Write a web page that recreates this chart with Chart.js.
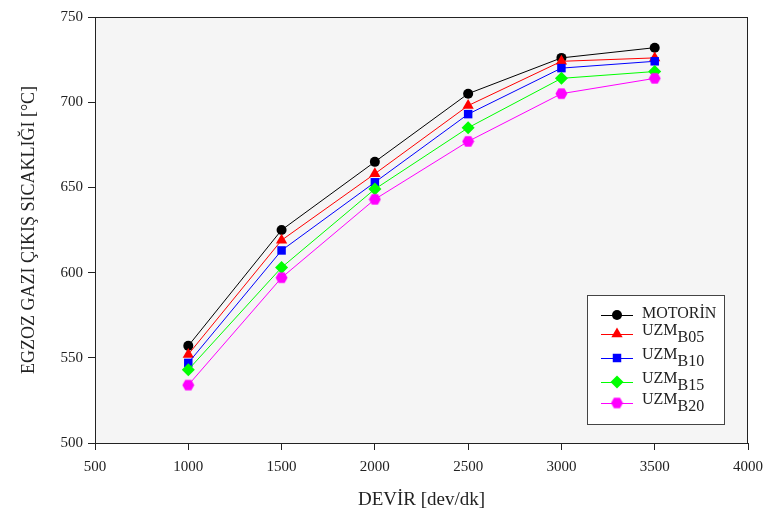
<!DOCTYPE html>
<html>
<head>
<meta charset="utf-8">
<script src="https://cdn.jsdelivr.net/npm/chart.js@4"></script>
<style>
  html, body { margin:0; padding:0; background:#fff; }
  #wrap { width:765px; height:516px; }
</style>
</head>
<body>
<div id="wrap"><canvas id="egzozChart" width="765" height="516"></canvas></div>
<script>
// Devir (dev/dk) ve egzoz gazi cikis sicakligi (°C)
const devir = [1000, 1500, 2000, 2500, 3000, 3500];
const motorin = [557, 625, 665, 705, 726, 732];
const uzmB05 = [552, 619, 658, 698, 724, 726];
const uzmB10 = [547, 613, 653, 693, 720, 724];
const uzmB15 = [543, 603, 649, 685, 714, 718];
const uzmB20 = [534, 597, 643, 677, 705, 714];

const seriesNames = [['MOTORİN', ''], ['UZM', 'B05'], ['UZM', 'B10'], ['UZM', 'B15'], ['UZM', 'B20']];
const seriesColors = ['#000000', '#ff0000', '#0000ff', '#00ff00', '#ff00ff'];

const serif = '"Liberation Serif", "DejaVu Serif", serif';

// altigen isaretci
function hexMarker(color) {
    const c = document.createElement('canvas');
    c.width = 13; c.height = 13;
    const g = c.getContext('2d');
    g.fillStyle = color;
    g.beginPath();
    for (let i = 0; i < 6; i++) {
        const a = Math.PI / 3 * i;
        const px = 6.5 + 6 * Math.cos(a), py = 6.5 + 6 * Math.sin(a);
        if (i === 0) g.moveTo(px, py); else g.lineTo(px, py);
    }
    g.closePath();
    g.fill();
    return c;
}

const markers = [
    {style:'circle', radius:5},
    {style:'triangle', radius:6.5},
    {style:'rect', radius:6},
    {style:'rectRot', radius:6.5},
    {style:hexMarker('#ff00ff'), radius:6}
];

const allSeries = [motorin, uzmB05, uzmB10, uzmB15, uzmB20];

const datasets = allSeries.map((vals, i) => ({
    label: seriesNames[i].join(''),
    data: devir.map((d, j) => ({x: d, y: vals[j]})),
    borderColor: seriesColors[i],
    backgroundColor: seriesColors[i],
    borderWidth: 1,
    pointStyle: markers[i].style,
    pointRadius: markers[i].radius,
    pointBorderWidth: 0,
    pointHoverRadius: markers[i].radius,
    tension: 0,
    order: 5 - i
}));

// grafik alani arka plani ve cercevesi
const frame = {
    id: 'frame',
    beforeDatasetsDraw(chart) {
        const {ctx, chartArea: a} = chart;
        ctx.save();
        ctx.fillStyle = '#f5f5f5';
        ctx.fillRect(a.left, a.top, a.right - a.left, a.bottom - a.top);
        ctx.restore();
    },
    afterDatasetsDraw(chart) {
        const {ctx, chartArea: a} = chart;
        ctx.save();
        ctx.strokeStyle = '#222';
        ctx.lineWidth = 1;
        ctx.strokeRect(a.left + 0.5, a.top + 0.5, a.right - a.left - 1, a.bottom - a.top);
        ctx.restore();
    }
};

// alt simgeli lejant
const subLegend = {
    id: 'subLegend',
    afterDraw(chart) {
        const {ctx, chartArea: a} = chart;
        const bx = a.right - 161, by = 295, bw = 137, bh = a.bottom - 19 - by;
        ctx.save();
        ctx.fillStyle = '#ffffff';
        ctx.fillRect(bx, by, bw, bh);
        ctx.strokeStyle = '#444';
        ctx.lineWidth = 1;
        ctx.strokeRect(bx + 0.5, by + 0.5, bw, bh);
        const rows = [20, 39, 63, 87, 108];
        chart.data.datasets.forEach((ds, i) => {
            const y = by + rows[i];
            ctx.strokeStyle = ds.borderColor;
            ctx.lineWidth = 1;
            ctx.beginPath();
            ctx.moveTo(bx + 14, y + 0.5);
            ctx.lineTo(bx + 46, y + 0.5);
            ctx.stroke();
            ctx.fillStyle = ds.backgroundColor;
            Chart.helpers.drawPoint(ctx, {pointStyle: ds.pointStyle, radius: ds.pointRadius, borderWidth: 0, rotation: 0}, bx + 30, y);
            ctx.fillStyle = '#222';
            ctx.font = '16px ' + serif;
            ctx.textBaseline = 'middle';
            ctx.textAlign = 'left';
            const [main, sub] = seriesNames[i];
            const ty = i === 0 ? y - 1 : y - 3;
            ctx.fillText(main, bx + 55, ty);
            if (sub) {
                const w = ctx.measureText(main).width;
                ctx.fillText(sub, bx + 55 + w, ty + 7);
            }
        });
        ctx.restore();
    }
};

new Chart(document.getElementById('egzozChart'), {
    type: 'line',
    data: { datasets: datasets },
    plugins: [frame, subLegend],
    options: {
        responsive: false,
        animation: false,
        events: [],
        layout: { padding: {top: 17, right: 17, left: 0, bottom: 0} },
        plugins: { legend: {display: false}, tooltip: {enabled: false} },
        scales: {
            x: {
                type: 'linear',
                min: 500, max: 4000,
                afterFit: s => { s.height = 73; s.paddingRight = 0; s.paddingLeft = 0; },
                grid: { drawOnChartArea: false, tickLength: 7, color: '#222' },
                border: { display: true, color: '#222' },
                ticks: { stepSize: 500, padding: 8, color: '#222', font: {family: serif, size: 15}, maxRotation: 0,
                         callback: v => String(v) },
                title: { display: true, text: 'DEVİR [dev/dk]', color: '#222', font: {family: serif, size: 19}, padding: {top: 0, bottom: 5} }
            },
            y: {
                min: 500, max: 750,
                afterFit: s => { s.width = 95; s.paddingTop = 0; s.paddingBottom = 0; },
                grid: { drawOnChartArea: false, tickLength: 7, color: '#222' },
                border: { display: true, color: '#222' },
                ticks: { stepSize: 50, padding: 5, color: '#222', font: {family: serif, size: 15} },
                title: { display: true, text: 'EGZOZ GAZI ÇIKIŞ SICAKLIĞI [°C]', color: '#222', font: {family: serif, size: 18}, padding: {top: 18, bottom: 0} }
            }
        }
    }
});
</script>
</body>
</html>
